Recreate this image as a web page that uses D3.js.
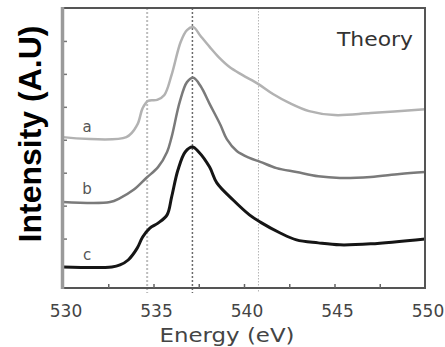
<!DOCTYPE html>
<html><head><meta charset="utf-8">
<script src="https://cdn.jsdelivr.net/npm/d3@7"></script>
<style>html,body{margin:0;padding:0;background:#fff;}svg{display:block;}</style>
</head><body>
<svg id="chart" width="445" height="347"></svg>
<script>
// ---- data ----
const energyA = [530, 533.5, 534.1, 534.4, 534.7, 535.2, 535.6, 536.0, 536.5, 536.85, 537.2, 537.6, 538.1, 538.6, 539.2, 539.9, 540.8, 541.6, 542.5, 543.6, 545.0, 547.0, 550];
const intensityA = [4.58, 4.58, 4.95, 5.46, 5.68, 5.71, 5.86, 6.47, 7.47, 7.83, 7.92, 7.65, 7.32, 7.01, 6.71, 6.47, 6.19, 5.89, 5.62, 5.37, 5.25, 5.31, 5.43];
const energyB = [530, 532.6, 533.15, 533.9, 534.6, 535.25, 535.75, 536.0, 536.45, 536.85, 537.2, 537.6, 538.1, 538.7, 539.05, 539.6, 540.3, 540.9, 541.8, 542.9, 544.1, 545.3, 547.0, 548.6, 550];
const intensityB = [2.61, 2.61, 2.73, 2.98, 3.34, 3.67, 4.13, 4.58, 5.65, 6.25, 6.38, 6.13, 5.59, 4.95, 4.52, 4.16, 3.95, 3.83, 3.64, 3.52, 3.39, 3.34, 3.37, 3.46, 3.52];
const energyC = [530, 532.7, 533.15, 533.6, 534.1, 534.4, 534.8, 535.25, 535.75, 536.0, 536.35, 536.75, 537.15, 537.5, 538.1, 538.5, 539.4, 540.3, 540.9, 542.0, 542.9, 544.1, 545.3, 547.0, 550];
const intensityC = [0.64, 0.64, 0.70, 0.85, 1.21, 1.55, 1.82, 1.97, 2.22, 2.76, 3.58, 4.13, 4.28, 4.13, 3.67, 3.19, 2.67, 2.22, 2.00, 1.67, 1.46, 1.37, 1.31, 1.34, 1.49];
const seriesNames = ["a", "b", "c"];
const labelEnergy = [531.33, 531.33, 531.33];
const labelIntensity = [4.89, 3.0, 1.0];
const xTickValues = [530, 535, 540, 545, 550];
const xMinorTicks = [532.5, 535, 537.5, 540, 542.5, 545, 547.5];
const yTickValues = [1.5, 2.5, 3.5, 4.5, 5.5, 6.5, 7.5];
const refLines = [534.65, 537.15, 540.8];
const xLabel = "Energy (eV)";
const yLabel = "Intensity (A.U)";
const titleText = "Theory";

// ---- layout ----
const L = 63, R = 425, T = 8, B = 288;
const svg = d3.select("#chart");
const x = d3.scaleLinear().domain([530, 550]).range([L, R]);
const y = d3.scaleLinear().domain([0, 8.5]).range([B, T]);

// reference dotted lines
const refStyles = [
  {stroke: "#bdbdbd", w: 2, dash: "2,2"},
  {stroke: "#6a6a6a", w: 1.5, dash: "2,2"},
  {stroke: "#b5b5b5", w: 1, dash: "1.5,1.5"}
];
svg.selectAll("line.ref").data(refLines).join("line")
  .attr("x1", d => x(d)).attr("x2", d => x(d))
  .attr("y1", T).attr("y2", B + 5)
  .attr("stroke", (d, i) => refStyles[i].stroke)
  .attr("stroke-width", (d, i) => refStyles[i].w)
  .attr("stroke-dasharray", (d, i) => refStyles[i].dash);

// curves
const series = [
  {e: energyA, v: intensityA, color: "#b2b2b2", w: 2.5},
  {e: energyB, v: intensityB, color: "#7a7a7a", w: 2.5},
  {e: energyC, v: intensityC, color: "#151515", w: 3}
];
const line = d3.line().x(d => x(d[0])).y(d => y(d[1])).curve(d3.curveCatmullRom.alpha(0.5));
series.forEach(s => {
  svg.append("path")
    .datum(s.e.map((e, i) => [e, s.v[i]]))
    .attr("d", line)
    .attr("fill", "none")
    .attr("stroke", s.color)
    .attr("stroke-width", s.w)
    .attr("stroke-linejoin", "round");
});

// frame
svg.append("line").attr("x1", L).attr("x2", R).attr("y1", T).attr("y2", T).attr("stroke", "#555").attr("stroke-width", 2);
svg.append("line").attr("x1", R).attr("x2", R).attr("y1", T - 1).attr("y2", B + 1).attr("stroke", "#555").attr("stroke-width", 2);
svg.append("line").attr("x1", L).attr("x2", R).attr("y1", B).attr("y2", B).attr("stroke", "#555").attr("stroke-width", 2);
svg.append("line").attr("x1", L - 0.5).attr("x2", L - 0.5).attr("y1", T - 1).attr("y2", B + 1).attr("stroke", "#9a9a9a").attr("stroke-width", 3.5);

// axes ticks (inward)
const xAxis = d3.axisTop(x).tickValues(xMinorTicks).tickSize(4).tickFormat("");
const gx = svg.append("g").attr("transform", `translate(0,${B})`).call(xAxis);
gx.select(".domain").remove();
gx.selectAll(".tick line").attr("stroke", "#666").attr("stroke-width", 1.5);

const yAxis = d3.axisRight(y).tickValues(yTickValues).tickSize(3).tickFormat("");
const gy = svg.append("g").attr("transform", `translate(${L + 1},0)`).call(yAxis);
gy.select(".domain").remove();
gy.selectAll(".tick line").attr("stroke", "#777").attr("stroke-width", 1.5);

// x tick labels
svg.selectAll("text.xt").data(xTickValues).join("text")
  .attr("x", d => x(d) + 3).attr("y", 317)
  .attr("text-anchor", "middle")
  .attr("font-family", "DejaVu Sans, sans-serif")
  .attr("font-size", 17).attr("fill", "#444")
  .text(d => d);

// axis titles
svg.append("text").attr("x", 227).attr("y", 342)
  .attr("text-anchor", "middle")
  .attr("font-family", "DejaVu Sans, sans-serif")
  .attr("font-size", 19).attr("fill", "#444")
  .attr("textLength", 135).attr("lengthAdjust", "spacingAndGlyphs")
  .text(xLabel);

svg.append("text")
  .attr("transform", "translate(41,134) rotate(-90)")
  .attr("text-anchor", "middle")
  .attr("font-family", "Liberation Sans, Arial, sans-serif")
  .attr("font-weight", "bold")
  .attr("font-size", 32).attr("fill", "#000")
  .text(yLabel);

// series labels
svg.selectAll("text.sl").data(seriesNames).join("text")
  .attr("x", (d, i) => x(labelEnergy[i])).attr("y", (d, i) => y(labelIntensity[i]) + 5)
  .attr("text-anchor", "middle")
  .attr("font-family", "DejaVu Sans, sans-serif")
  .attr("font-size", 15).attr("fill", "#555")
  .text(d => d);

// title
svg.append("text").attr("x", 413).attr("y", 46)
  .attr("text-anchor", "end")
  .attr("font-family", "DejaVu Sans, sans-serif")
  .attr("font-size", 19).attr("fill", "#333")
  .attr("textLength", 76).attr("lengthAdjust", "spacingAndGlyphs")
  .text(titleText);
</script>
</body></html>
